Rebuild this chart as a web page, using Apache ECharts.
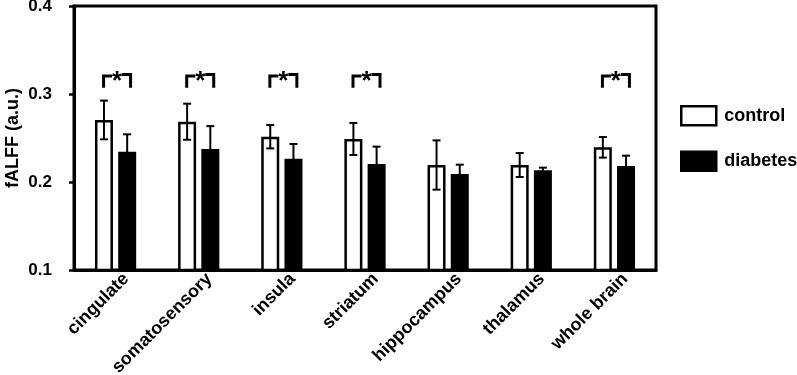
<!DOCTYPE html>
<html>
<head>
<meta charset="utf-8">
<script src="https://cdn.jsdelivr.net/npm/echarts@6/dist/echarts.min.js"></script>
<style>
html,body{margin:0;padding:0;background:#fff;}
#chart{width:797px;height:375px;}
</style>
</head>
<body>
<div id="chart"></div>
<script>
// ---- data ----
const categories = ['cingulate','somatosensory','insula','striatum','hippocampus','thalamus','whole brain'];
const controlMean = [0.2705, 0.2685, 0.2515, 0.2489, 0.2193, 0.2193, 0.2394];
const controlSD   = [0.0220, 0.0205, 0.0133, 0.0182, 0.0280, 0.0136, 0.0117];
const diabetesMean = [0.2344, 0.2375, 0.2265, 0.2205, 0.2091, 0.2133, 0.2182];
const diabetesSD   = [0.0198, 0.0260, 0.0167, 0.0197, 0.0106, 0.0030, 0.0117];
const significant  = [1, 1, 1, 1, 0, 0, 1];
const bracketTop = 0.3205;
const bracketBottom = 0.3070;
const yTickLabels = ['0.1','0.2','0.3','0.4'];
const yMin = 0.1, yMax = 0.4, yInterval = 0.1;

const FONT = "'Liberation Sans', Arial, sans-serif";
const BAR_W = 18;
const HALF_PITCH = 11.6;

function errData(mean, sd){ return mean.map((m,i)=>[i, m, sd[i]]); }
function errRender(offset){
  return function(params, api){
    const i = api.value(0), m = api.value(1), s = api.value(2);
    const top = api.coord([i, m + s]);
    const bot = api.coord([i, m - s]);
    const x = top[0] + offset;
    const cap = 4;
    const st = {stroke:'#000', lineWidth:2};
    return {type:'group', children:[
      {type:'line', shape:{x1:x, y1:top[1], x2:x, y2:bot[1]}, style:st},
      {type:'line', shape:{x1:x-cap, y1:top[1], x2:x+cap, y2:top[1]}, style:st},
      {type:'line', shape:{x1:x-cap, y1:bot[1], x2:x+cap, y2:bot[1]}, style:st}
    ]};
  };
}
const sigData = [];
significant.forEach((s,i)=>{ if(s) sigData.push([i, bracketTop, bracketBottom]); });

const chart = echarts.init(document.getElementById('chart'), null, {renderer:'canvas'});
chart.setOption({
  animation:false,
  backgroundColor:'#fff',
  textStyle:{fontFamily:FONT},
  grid:{left:74, right:141, top:6, bottom:105, containLabel:false, outerBoundsMode:'none',
    show:true, borderColor:'#000', borderWidth:3, backgroundColor:'transparent'},
  legend:{
    orient:'vertical', left:680, top:105, padding:0, itemWidth:35, itemHeight:19, itemGap:24,
    textStyle:{fontFamily:FONT, fontWeight:'bold', fontSize:18, color:'#000', padding:[0,0,0,3]},
    data:[
      {name:'control', icon:'rect', itemStyle:{color:'#fff', borderColor:'#000', borderWidth:2.5}},
      {name:'diabetes', icon:'rect', itemStyle:{color:'#000', borderColor:'#000', borderWidth:2.5}}
    ]
  },
  xAxis:{
    type:'category', data:categories,
    axisLine:{lineStyle:{color:'#000', width:3}},
    axisTick:{show:false},
    axisLabel:{interval:0, rotate:45, margin:4, align:'right', verticalAlign:'top', padding:[0,-6,0,0],
      fontFamily:FONT, fontWeight:'bold', fontSize:18, color:'#000'}
  },
  yAxis:{
    type:'value', min:yMin, max:yMax, interval:yInterval,
    name:'fALFF (a.u.)', nameLocation:'middle', nameGap:52, nameRotate:90, nameMoveOverlap:false,
    nameTextStyle:{fontFamily:FONT, fontWeight:'bold', fontSize:18, color:'#000'},
    axisLine:{show:true, lineStyle:{color:'#000', width:3}},
    axisTick:{show:true, inside:false, length:5, lineStyle:{color:'#000', width:2.5}},
    splitLine:{show:false},
    axisLabel:{margin:22, fontFamily:FONT, fontWeight:'bold', fontSize:17, color:'#000',
      formatter:(v)=>{ const k = Math.round((v - yMin)/yInterval); return yTickLabels[k] || ''; }}
  },
  series:[
    {name:'control', type:'bar', data:controlMean, barWidth:BAR_W, barGap:'29%',
      itemStyle:{color:'#fff', borderColor:'#000', borderWidth:2.5}},
    {name:'diabetes', type:'bar', data:diabetesMean, barWidth:BAR_W, barGap:'29%',
      itemStyle:{color:'#000', borderColor:'#000', borderWidth:2.5}},
    {name:'controlErr', type:'custom', data:errData(controlMean, controlSD), z:5,
      encode:{x:0, y:1}, renderItem:errRender(-HALF_PITCH)},
    {name:'diabetesErr', type:'custom', data:errData(diabetesMean, diabetesSD), z:5,
      encode:{x:0, y:1}, renderItem:errRender(HALF_PITCH)},
    {name:'sig', type:'custom', data:sigData, z:6, encode:{x:0, y:1},
      renderItem:function(params, api){
        const i = api.value(0);
        const t = api.coord([i, api.value(1)]);
        const b = api.coord([i, api.value(2)]);
        const cx = t[0] + 1.5, w = 13.5, g = 5;
        const st = {stroke:'#000', lineWidth:3, fill:null};
        return {type:'group', children:[
          {type:'polyline', shape:{points:[[cx-w, b[1]],[cx-w, t[1]],[cx-g, t[1]]]}, style:st},
          {type:'polyline', shape:{points:[[cx+w, b[1]],[cx+w, t[1]-1.5],[cx+g, t[1]-1.5]]}, style:st},
          {type:'text', x:cx, y:t[1]+6, style:{text:'*', font:"bold 26px "+FONT, fill:'#000', align:'center', verticalAlign:'middle'}}
        ]};
      }}
  ]
});
</script>
</body>
</html>
